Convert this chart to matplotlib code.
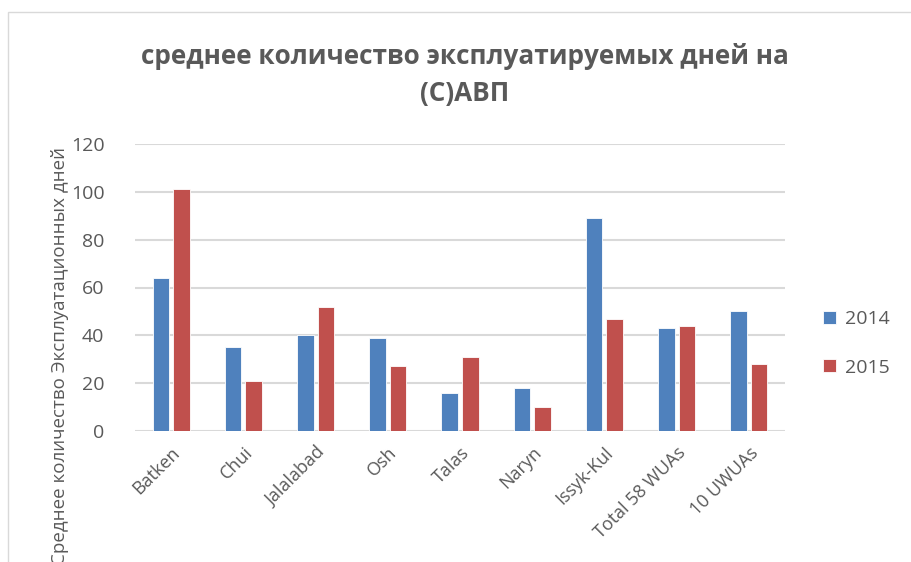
import matplotlib.pyplot as plt
import numpy as np
from matplotlib.patches import Rectangle

# data
regions = ['Batken', 'Chui', 'Jalalabad', 'Osh', 'Talas', 'Naryn',
           'Issyk-Kul', 'Total 58 WUAs', '10 UWUAs']
days_2014 = [64, 35, 40, 39, 16, 18, 89, 43, 50]
days_2015 = [101, 21, 52, 27, 31, 10, 47, 44, 28]
years = ['2014', '2015']

title = 'среднее количество эксплуатируемых дней на\n(С)АВП'
ylabel = 'Среднее количество Эксплуатационных дней'

plt.rcParams['font.family'] = ['Open Sans', 'DejaVu Sans']
grey = '#595959'

fig = plt.figure(figsize=(9.11, 5.62), dpi=100)
# chart frame (Excel-like border, cut at right/bottom)
fig.patches.append(Rectangle((8 / 911, -0.1), 1.2, 1 - 12 / 562 + 0.1,
                             transform=fig.transFigure, fill=False,
                             edgecolor='#D9D9D9', linewidth=1))

ax = fig.add_axes([135 / 911, 1 - 431 / 562, 650 / 911, 287 / 562])
x = np.arange(len(regions))
w = 0.23
ax.bar(x - 0.142, days_2014, w, color='#4F81BD', edgecolor='white',
       linewidth=0.6, label=years[0], zorder=3)
ax.bar(x + 0.142, days_2015, w, color='#C0504D', edgecolor='white',
       linewidth=0.6, label=years[1], zorder=3)

ax.set_xlim(-0.5, len(regions) - 0.5)
ax.set_ylim(0, 120)
ax.set_yticks(range(0, 121, 20))
ax.grid(axis='y', color='#D9D9D9', linewidth=1.5, zorder=0)
for s in ax.spines.values():
    s.set_visible(False)
ax.tick_params(length=0)
ax.tick_params(axis='y', pad=22, labelsize=14, labelcolor=grey)
ax.set_xticks(x)
ax.set_xticklabels(regions, rotation=45, ha='right', rotation_mode='anchor',
                   fontsize=13, color=grey)
ax.tick_params(axis='x', pad=9)

# y label: long, runs off the bottom of the chart like in the original
fig.text(60 / 911, 1 - 147 / 562, ylabel, rotation=90, ha='center', va='top',
         fontsize=13.5, color=grey)

fig.text(465 / 911, 1 - 75 / 562, title, ha='center', va='center',
         fontsize=18.8, fontweight='bold', color=grey, linespacing=1.5)

leg = ax.legend(loc='center left', bbox_to_anchor=(1.032, 0.305), frameon=False,
                fontsize=14, handlelength=0.65, handleheight=0.65,
                labelspacing=1.55, handletextpad=0.45)
for t in leg.get_texts():
    t.set_color(grey)

fig.savefig('out.png', dpi=100)
